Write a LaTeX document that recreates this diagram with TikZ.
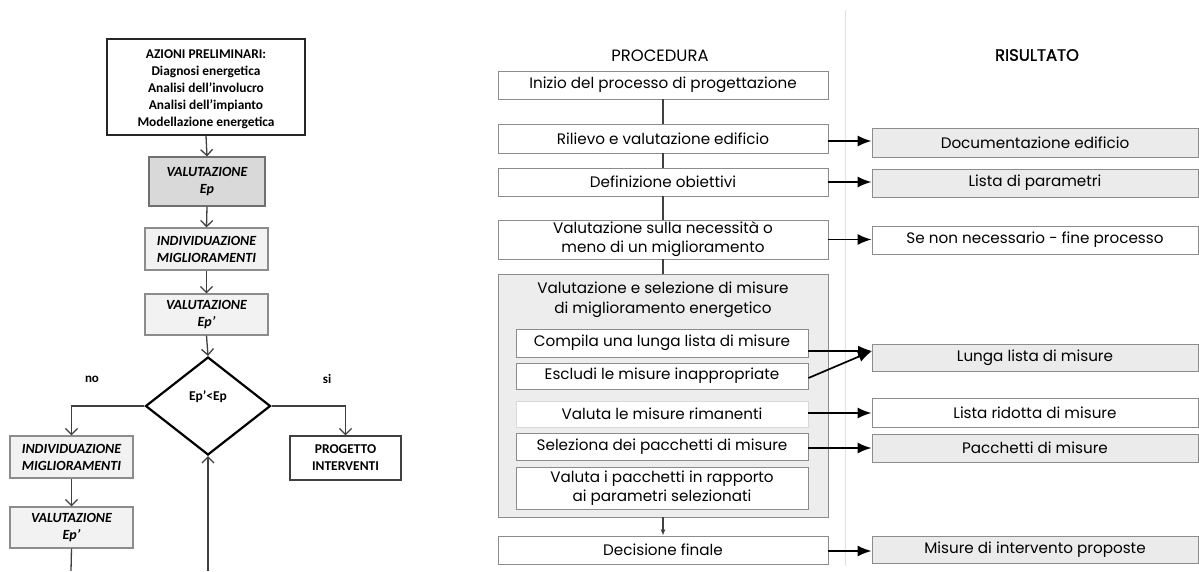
\documentclass[tikz,border=0pt]{standalone}
\usepackage{fontspec}
\newfontfamily\carlito{Carlito}
\newfontfamily\gothic{Poppins}
\usetikzlibrary{shapes.geometric,arrows.meta}
\definecolor{boxgray}{HTML}{D9D9D9}
\definecolor{lightfill}{HTML}{F2F2F2}
\definecolor{resfill}{HTML}{EBEBEB}
\definecolor{bigfill}{HTML}{EDEDED}
\definecolor{edgegray}{HTML}{8C8C8C}
\definecolor{linegray}{HTML}{404040}
\tikzset{
  lbox/.style={draw=linegray, line width=1.2pt, inner sep=0pt, align=center,
    font=\carlito\bfseries\itshape\fontsize{14}{17}\selectfont},
  lgray/.style={lbox, fill=boxgray, draw=edgegray!80!black},
  llight/.style={lbox, fill=lightfill, draw=edgegray},
  larr/.style={draw=linegray, line width=1.3pt, -{Straight Barb[length=6pt,width=12pt,line width=1.3pt]}},
  lline/.style={draw=linegray, line width=1.3pt},
  pbox/.style={draw=edgegray, line width=0.9pt, fill=white, inner sep=0pt, align=center,
    font=\gothic\fontsize{15.2}{19}\selectfont},
  rbox/.style={pbox, fill=resfill},
  pline/.style={draw=linegray, line width=1.3pt},
  rarr/.style={draw=black, line width=1.7pt, -{Latex[length=14pt,width=11pt]}},
}
\begin{document}
\begin{tikzpicture}[x=1pt,y=-1pt]
\useasboundingbox (0,0) rectangle (1199,571);

% ---------------- left flowchart ----------------
\node[lbox, draw=black!85, line width=1.4pt, font=\carlito\bfseries\fontsize{13.4}{17}\selectfont,
  minimum width=198pt, minimum height=96pt] (prelim) at (206,87)
  {\rule{0pt}{14pt}AZIONI PRELIMINARI:\\Diagnosi energetica\\Analisi dell’involucro\\Analisi dell’impianto\\Modellazione energetica};
\node[lgray, minimum width=116pt, minimum height=49pt] (vep) at (207,181.5) {VALUTAZIONE\\Ep};
\node[llight, minimum width=123pt, minimum height=42pt] (ind1) at (206.5,249) {INDIVIDUAZIONE\\MIGLIORAMENTI};
\node[llight, minimum width=123pt, minimum height=41pt] (vep2) at (206.5,314.5) {VALUTAZIONE\\Ep’};
\node[draw=black, line width=2.2pt, diamond, shape aspect=1.27, inner sep=0pt,
  minimum width=125pt, minimum height=98pt] (dia) at (208,406) {};
\node[font=\carlito\bfseries\fontsize{13.5}{15}\selectfont] (dtext) at (208,397) {Ep’<Ep};
\node[font=\carlito\bfseries\fontsize{13}{15}\selectfont] (no) at (92,379) {no};
\node[font=\carlito\bfseries\fontsize{13}{15}\selectfont] (si) at (327,379) {si};
\node[llight, minimum width=123pt, minimum height=42pt] (ind2) at (71.5,457) {INDIVIDUAZIONE\\MIGLIORAMENTI};
\node[llight, minimum width=123pt, minimum height=41pt] (vep3) at (71.5,527.5) {VALUTAZIONE\\Ep’};
\node[lbox, fill=white, draw=black!75, font=\carlito\bfseries\fontsize{13.5}{17}\selectfont,
  minimum width=111pt, minimum height=44pt] (prog) at (345.5,458) {PROGETTO\\INTERVENTI};
\coordinate (lbot) at (71,571);
\coordinate (mbot) at (208,571);

\draw[larr] (prelim.south) -- (vep.north);
\draw[larr] (vep.south) -- (ind1.north);
\draw[larr] (ind1.south) -- (vep2.north);
\draw[larr] (vep2.south) -- (dia.north);
\draw[larr] (dia.west) -| (ind2.north);
\draw[larr] (dia.east) -| (prog.north);
\draw[larr] (ind2.south) -- (vep3.north);
\draw[lline] (vep3.south) -- (lbot);
\draw[larr] (mbot) -- (dia.south);

% ---------------- right: procedure ----------------
\draw[draw=black!12, line width=1pt] (845,10) coordinate (sepa) -- (845,566) coordinate (sepb);
\node[font=\gothic\fontsize{16.4}{18}\selectfont] (proc) at (660,56) {PROCEDURA};
\node[font=\gothic\fontsize{16.5}{18}\selectfont\addfontfeature{FakeBold=1.5}] (ris) at (1037,55) {RISULTATO};

\node[pbox, minimum width=330pt, minimum height=28pt] (inizio) at (663,85) {Inizio del processo di progettazione};
\node[pbox, minimum width=330pt, minimum height=29pt] (ril) at (663,138.5) {Rilievo e valutazione edificio};
\node[pbox, minimum width=330pt, minimum height=28pt] (def) at (663,182) {Definizione obiettivi};
\node[pbox, minimum width=330pt, minimum height=39pt] (nec) at (663,239.5) {Valutazione sulla necessità o\\meno di un miglioramento};
\node[pbox, fill=bigfill, minimum width=330pt, minimum height=243pt] (big) at (663,395.5) {};
\node[font=\gothic\fontsize{15.2}{20}\selectfont, align=center] (bigt) at (663,300) {Valutazione e selezione di misure\\di miglioramento energetico};
\node[pbox, minimum width=292pt, minimum height=28pt] (comp) at (662,343) {Compila una lunga lista di misure};
\node[pbox, minimum width=292pt, minimum height=26pt] (escl) at (662,376) {Escludi le misure inappropriate};
\node[pbox, draw=black!15, minimum width=292pt, minimum height=26pt] (valr) at (662,414) {Valuta le misure rimanenti};
\node[pbox, minimum width=292pt, minimum height=27pt] (sel) at (662,446.5) {Seleziona dei pacchetti di misure};
\node[pbox, minimum width=292pt, minimum height=42pt] (valp) at (662,488) {Valuta i pacchetti in rapporto\\ai parametri selezionati};
\node[pbox, minimum width=330pt, minimum height=28pt] (dec) at (663,550) {Decisione finale};

\draw[pline] (inizio.south) -- (ril.north);
\draw[pline] (ril.south) -- (def.north);
\draw[pline] (def.south) -- (nec.north);
\draw[pline] (nec.south) -- (big.north);
\draw[pline, -{Latex[length=6pt,width=5pt]}] (big.south) -- (dec.north);

% ---------------- right: results ----------------
\node[rbox, minimum width=326pt, minimum height=29pt] (doc) at (1035,142.5) {Documentazione edificio};
\node[rbox, minimum width=326pt, minimum height=28pt] (lpar) at (1035,183) {Lista di parametri};
\node[pbox, minimum width=326pt, minimum height=28pt] (senon) at (1035,240) {Se non necessario - fine processo};
\node[rbox, minimum width=326pt, minimum height=27pt] (lunga) at (1035,357.5) {Lunga lista di misure};
\node[pbox, minimum width=326pt, minimum height=29pt] (lrid) at (1035,412.5) {Lista ridotta di misure};
\node[rbox, minimum width=326pt, minimum height=28pt] (pacc) at (1035,448) {Pacchetti di misure};
\node[rbox, minimum width=326pt, minimum height=27pt] (mis) at (1035,549.5) {Misure di intervento proposte};

\coordinate (lin) at (872,351);
\draw[rarr] (ril.east |- 0,141) -- (doc.west |- 0,141);
\draw[rarr] (def.east) -- (def.east -| lpar.west);
\draw[rarr] (nec.east) -- (nec.east -| senon.west);
\draw[rarr] (comp.east |- lin) -- (lin);
\draw[rarr] (escl.east |- 0,378) -- (lin);
\draw[rarr] (valr.east |- 0,413) -- (lrid.west |- 0,413);
\draw[rarr] (sel.east |- 0,448) -- (pacc.west |- 0,448);
\draw[rarr] (dec.east |- 0,551) -- (mis.west |- 0,551);
\end{tikzpicture}
\end{document}
